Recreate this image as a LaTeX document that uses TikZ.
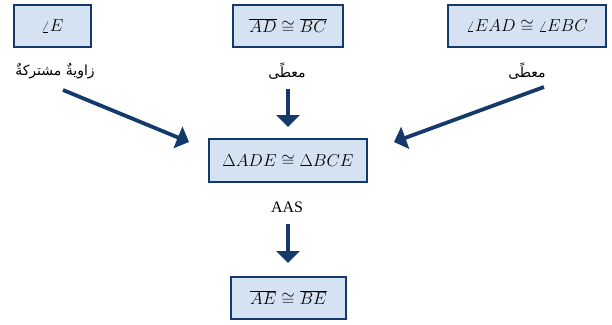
\documentclass[tikz,border=0pt]{standalone}
\usepackage{fontspec}
\setmainfont{Liberation Serif}
\newfontfamily\arabicfont[Script=Arabic]{DejaVu Sans}
\TeXXeTstate=1
\usetikzlibrary{arrows.meta}
\definecolor{navy}{HTML}{133A6A}
\definecolor{boxfill}{HTML}{D5E2F1}
\begin{document}
\begin{tikzpicture}[x=1pt,y=-1pt,
  fact/.style={draw=navy,line width=1.5pt,fill=boxfill,inner sep=0pt,font=\fontsize{16}{19}\selectfont},
  lbl/.style={font=\fontsize{16}{19}\selectfont},
  arlbl/.style={font=\fontsize{14}{17}\selectfont\arabicfont},
  flow/.style={draw=navy,line width=3.8pt,-{Triangle[length=12pt,width=23pt]}}]
\useasboundingbox (0,0) rectangle (612,324);
\node[fact,minimum width=77pt,minimum height=42pt] (e) at (52.5,26) {$\angle E$};
\node[fact,minimum width=110pt,minimum height=42pt] (adbc) at (288,26) {$\overline{AD}\cong\overline{BC}$};
\node[fact,minimum width=158pt,minimum height=42pt] (ang) at (527,26) {$\angle EAD\cong\angle EBC$};
\node[arlbl] (l1) at (55,71) {\beginR زاويةٌ مشتركةٌ\endR};
\node[arlbl] (l2) at (287,71) {\beginR معطًى\endR};
\node[arlbl] (l3) at (527,71) {\beginR معطًى\endR};
\node[fact,minimum width=158pt,minimum height=43pt] (tri) at (288,160.5) {$\Delta ADE\cong\Delta BCE$};
\node[lbl] (aas) at (287,207) {AAS};
\node[fact,minimum width=115pt,minimum height=42pt] (ae) at (288.5,298) {$\overline{AE}\cong\overline{BE}$};
\coordinate (s1) at (63,90);
\coordinate (t1) at (189,142);
\coordinate (s2) at (288,89);
\coordinate (t2) at (288,127);
\coordinate (s3) at (544,87);
\coordinate (t3) at (394,142);
\coordinate (s4) at (288,224);
\coordinate (t4) at (288,263);
\draw[flow] (s1) -- (t1);
\draw[flow] (s2) -- (t2);
\draw[flow] (s3) -- (t3);
\draw[flow] (s4) -- (t4);
\end{tikzpicture}
\end{document}
